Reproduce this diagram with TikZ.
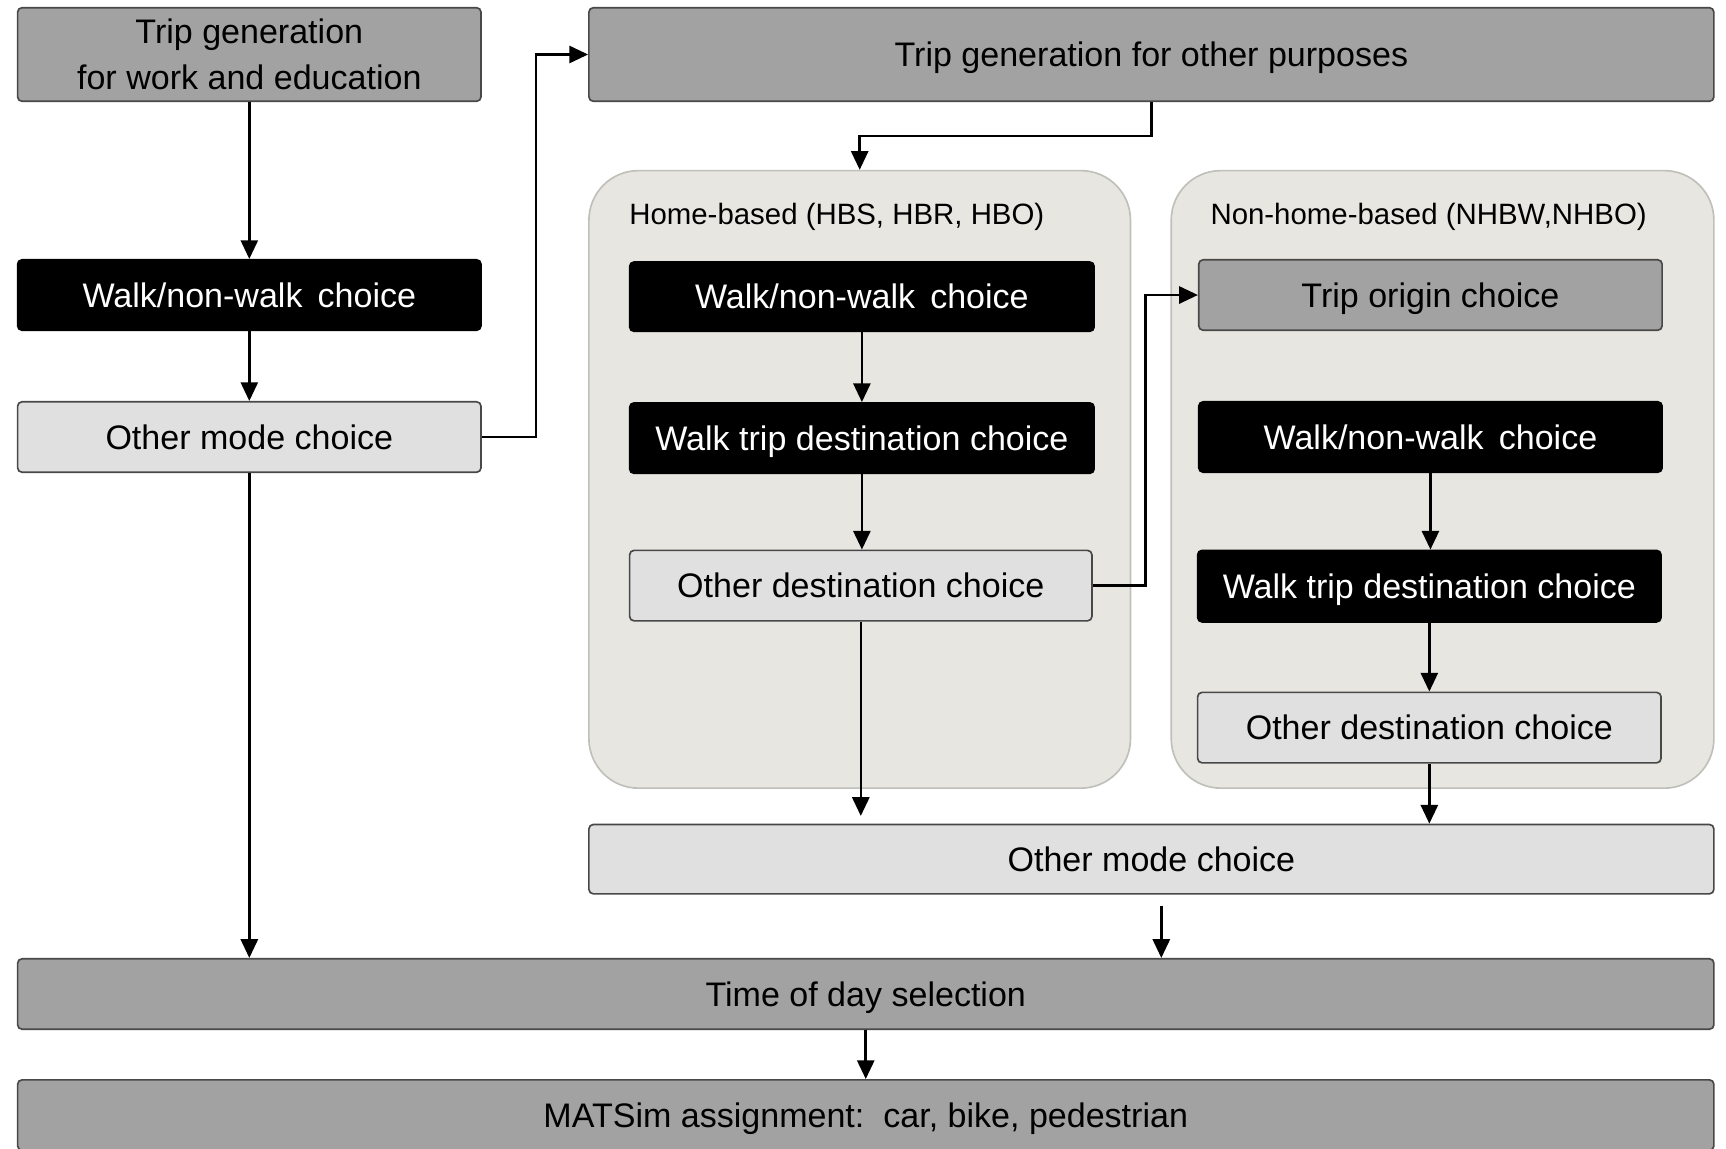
\documentclass[tikz,border=0pt]{standalone}
\usepackage{fontspec}
\setmainfont{Liberation Sans}
\usetikzlibrary{arrows.meta,calc}

\definecolor{boxdark}{RGB}{162,162,162}
\definecolor{boxlight}{RGB}{224,224,224}
\definecolor{groupfill}{RGB}{232,230,224}
\definecolor{groupline}{RGB}{192,192,186}
\definecolor{edgegray}{RGB}{72,72,72}

\tikzset{
  stagebase/.style={draw=edgegray, line width=0.15mm, rounded corners=0.4mm, inner sep=0pt,
    font=\fontsize{8.8}{11.9}\selectfont, align=center},
  stage/.style={stagebase, text height=0.75em, text depth=0.13em},
  darkbox/.style={stage, fill=boxdark},
  lightbox/.style={stage, fill=boxlight},
  blackbox/.style={stage, fill=black, draw=black, text=white},
  group/.style={draw=groupline, fill=groupfill, line width=0.15mm, rounded corners=4.5mm, inner sep=0pt},
  grouplabel/.style={anchor=west, inner sep=0pt, font=\fontsize{7.6}{9}\selectfont},
  flow/.style={line width=0.23mm, -{Triangle[length=1.7mm,width=1.55mm]}},
}

\begin{document}
\begin{tikzpicture}[x=0.1mm, y=-0.1mm]
  \useasboundingbox (0,0) rectangle (1568,1043);
  \fill[white] (0,0) rectangle (1568,1043);
  \begin{scope}
  \clip (0,0) rectangle (1568,1043);

  % purpose groups
  \node[group, minimum width=49.2mm, minimum height=56.1mm] (home) at (781,435.5) {};
  \node[group, minimum width=49.3mm, minimum height=56.1mm] (nhb) at (1310.5,435.5) {};
  \node[grouplabel] (homelbl) at (571,197) {Home-based (HBS, HBR, HBO)};
  \node[grouplabel] (nhblbl) at (1099,197) {Non-home-based (NHBW,NHBO)};

  % work and education chain
  \node[stagebase, fill=boxdark, minimum width=42.1mm, minimum height=8.5mm] (twork) at (226.5,49.5)
    {Trip generation\\for work and education};
  \node[blackbox, minimum width=42.1mm, minimum height=6.4mm] (wnw1) at (226.5,268)
    {Walk/non-walk\ \,choice};
  \node[lightbox, minimum width=42.1mm, minimum height=6.4mm] (omc1) at (226.5,397)
    {Other mode choice};

  % other purposes
  \node[darkbox, minimum width=102.2mm, minimum height=8.5mm] (tother) at (1046,49.5)
    {Trip generation for other purposes};

  % home-based chain
  \node[blackbox, minimum width=42.2mm, minimum height=6.3mm] (wnw2) at (783,269.5)
    {Walk/non-walk\ \,choice};
  \node[blackbox, minimum width=42.2mm, minimum height=6.4mm] (wtd2) at (783,398)
    {Walk trip destination choice};
  \node[lightbox, minimum width=42.0mm, minimum height=6.4mm] (od2) at (782,532)
    {Other destination choice};

  % non-home-based chain
  \node[darkbox, minimum width=42.1mm, minimum height=6.4mm] (toc) at (1299.5,268)
    {Trip origin choice};
  \node[blackbox, minimum width=42.1mm, minimum height=6.4mm] (wnw3) at (1299.5,397)
    {Walk/non-walk\ \,choice};
  \node[blackbox, minimum width=42.1mm, minimum height=6.5mm] (wtd3) at (1298.5,532.5)
    {Walk trip destination choice};
  \node[lightbox, minimum width=42.1mm, minimum height=6.4mm] (od3) at (1298.5,661)
    {Other destination choice};

  % common steps
  \node[lightbox, minimum width=102.2mm, minimum height=6.3mm] (omc2) at (1046,780.5)
    {Other mode choice};
  \node[darkbox, minimum width=154.1mm, minimum height=6.4mm] (tod) at (786.5,903)
    {Time of day selection};
  \node[darkbox, minimum width=154.1mm, minimum height=6.4mm] (mats) at (786.5,1013)
    {MATSim assignment:\ \ car, bike, pedestrian};

  % connectors
  \draw[flow] (twork) -- (wnw1);
  \draw[flow] (wnw1) -- (omc1);
  \draw[flow] (omc1.south) -- (omc1.south |- tod.north);
  \draw[flow] (omc1.east) -- ++(49,0) |- (tother.west);
  \draw[flow] (tother.south) -- ++(0,31) -| (home.north);
  \draw[flow] (wnw2.south) -- (wnw2.south |- wtd2.north);
  \draw[flow] (wtd2.south) -- (wtd2.south |- od2.north);
  \draw[flow, shorten >=0.7mm] (od2.south) -- (od2.south |- omc2.north);
  \draw[flow] (od2.east) -- ++(48,0) |- (toc.west);
  \draw[flow] (wnw3.south) -- (wnw3.south |- wtd3.north);
  \draw[flow] (wtd3.south) -- (wtd3.south |- od3.north);
  \draw[flow] (od3.south) -- (od3.south |- omc2.north);
  \draw[flow, shorten <=1mm] ([xshift=0.9mm]omc2.south) -- ([xshift=0.9mm]omc2.south |- tod.north);
  \draw[flow] (tod.south) -- (mats.north);
  \end{scope}
\end{tikzpicture}
\end{document}
